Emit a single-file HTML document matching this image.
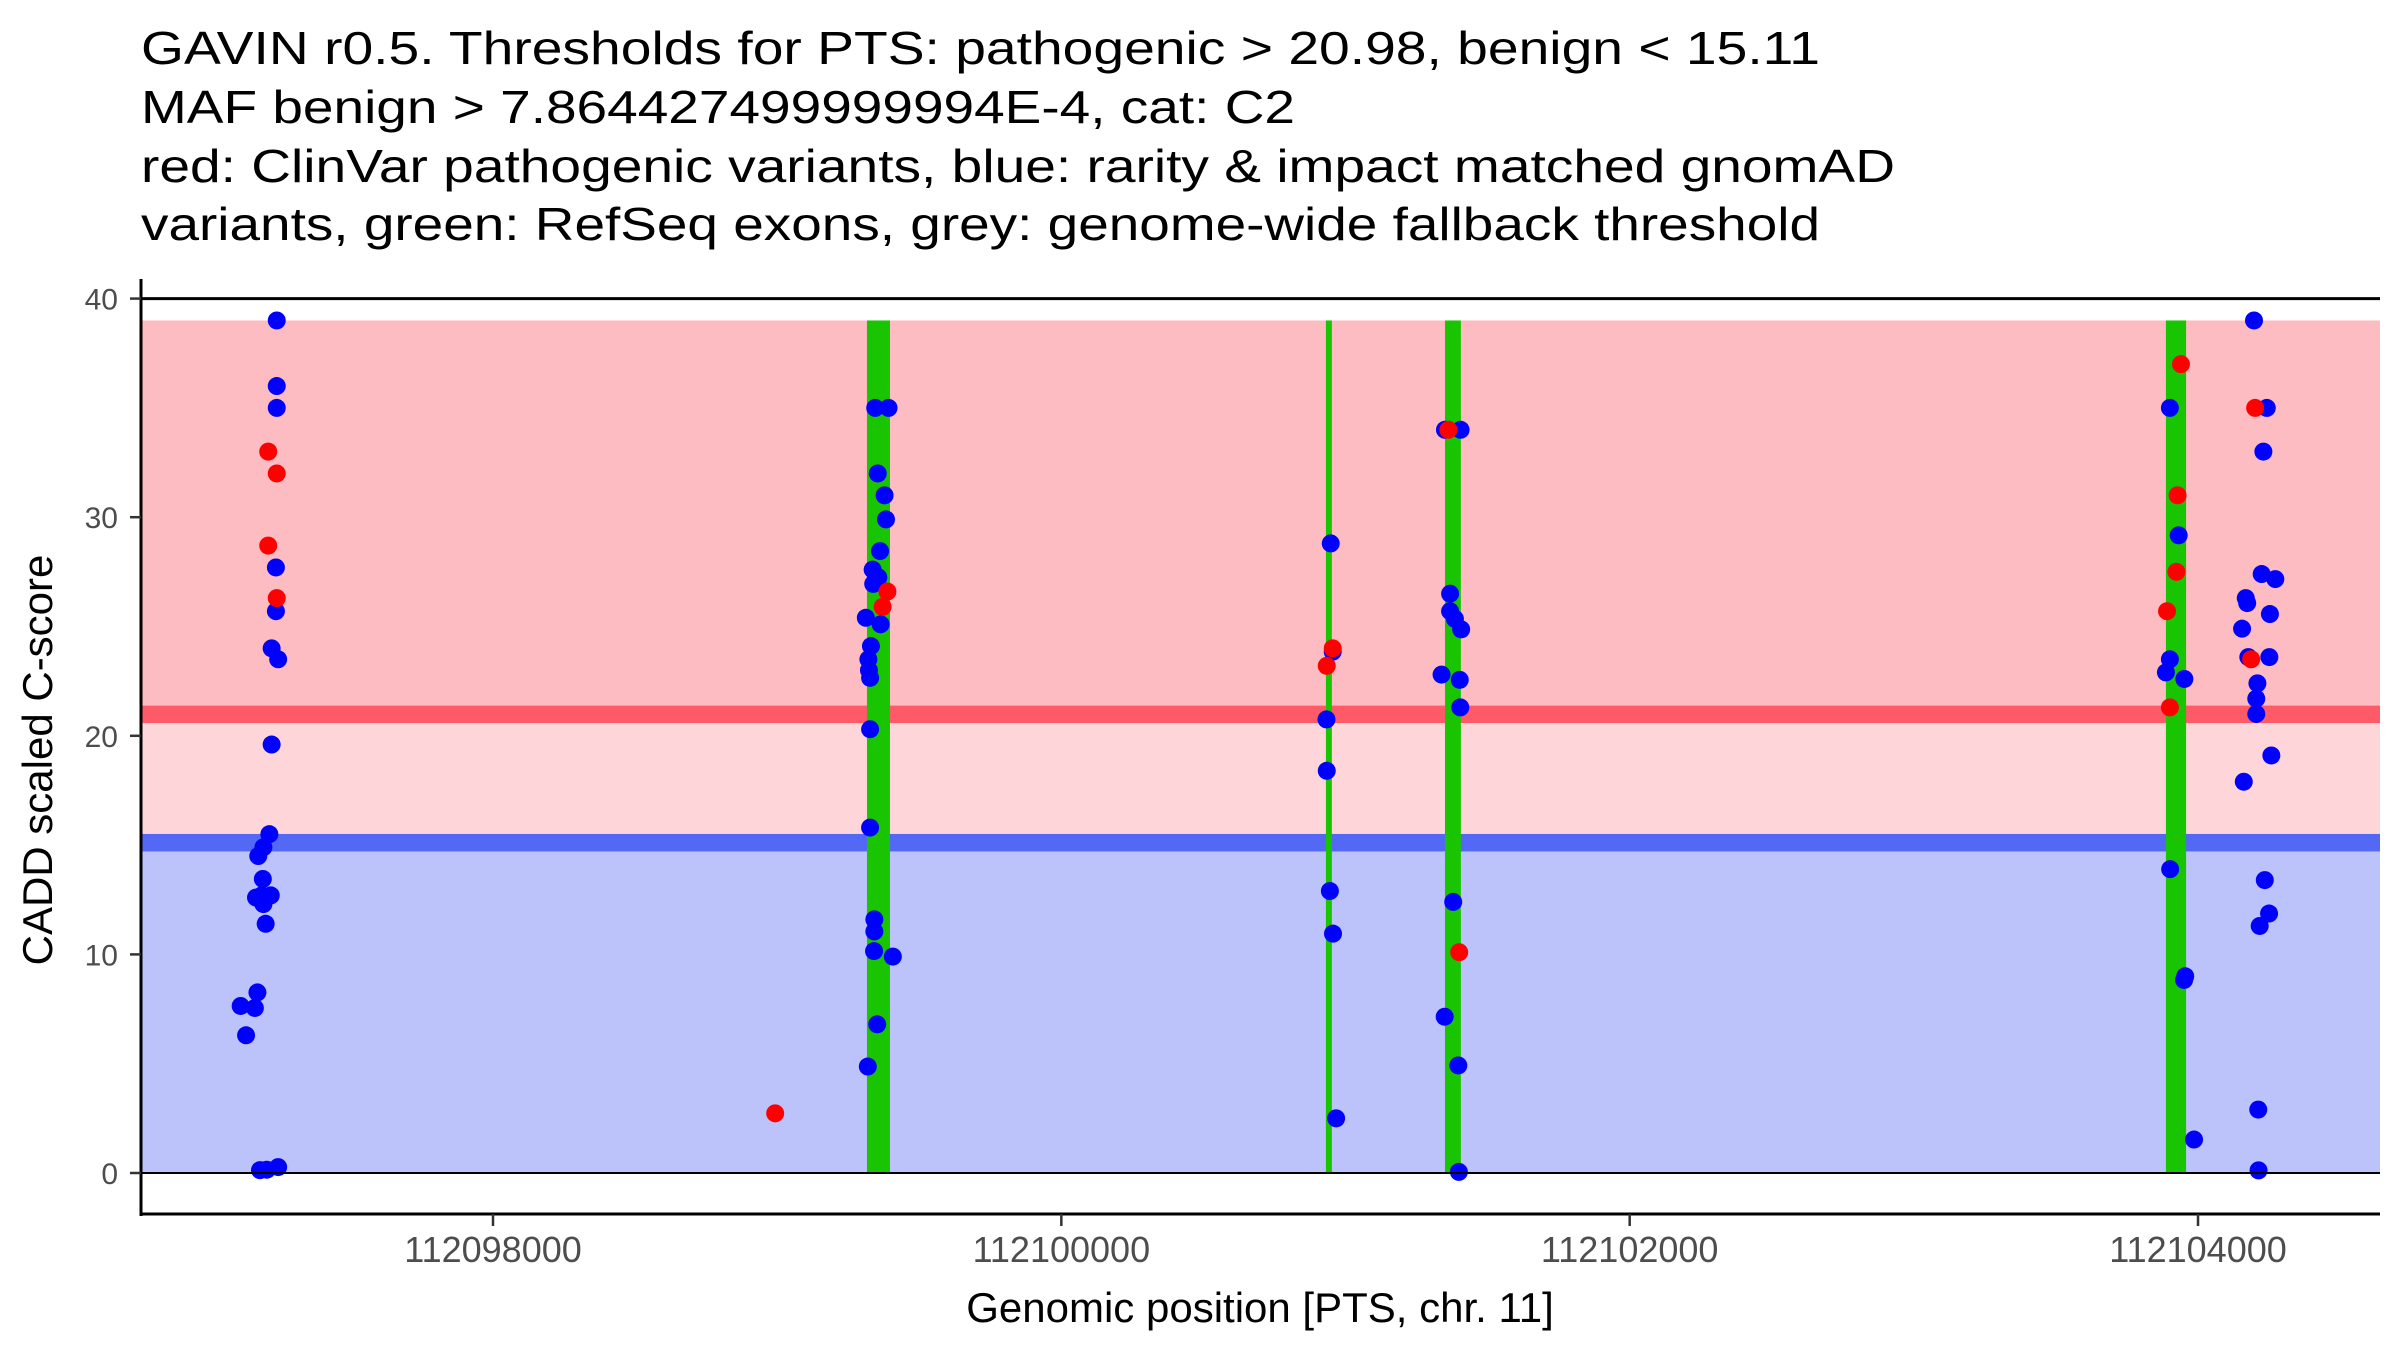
<!DOCTYPE html>
<html><head><meta charset="utf-8"><style>
html,body{margin:0;padding:0;background:#fff;}
svg{display:block;font-family:"Liberation Sans",Arial,sans-serif;}
</style></head><body>
<svg id="chart" width="2400" height="1350" viewBox="0 0 2400 1350" xmlns="http://www.w3.org/2000/svg">
<g font-size="46" fill="#000">
<text x="141" y="64" textLength="1679" lengthAdjust="spacingAndGlyphs">GAVIN r0.5. Thresholds for PTS: pathogenic &gt; 20.98, benign &lt; 15.11</text>
<text x="141" y="123" textLength="1154" lengthAdjust="spacingAndGlyphs">MAF benign &gt; 7.864427499999994E-4, cat: C2</text>
<text x="141" y="182" textLength="1754" lengthAdjust="spacingAndGlyphs">red: ClinVar pathogenic variants, blue: rarity &amp; impact matched gnomAD</text>
<text x="141" y="240" textLength="1679" lengthAdjust="spacingAndGlyphs">variants, green: RefSeq exons, grey: genome-wide fallback threshold</text>
</g>
<g id="bg"></g>
<g id="exons"></g>
<g id="pts"></g>
<g id="axes"></g>
<text x="1260" y="1322" font-size="42" text-anchor="middle" fill="#000">Genomic position [PTS, chr. 11]</text>
<text transform="translate(52,760) rotate(-90)" font-size="42" text-anchor="middle" fill="#000">CADD scaled C-score</text>
</svg>
<script>
const xTicks = [112098000, 112100000, 112102000, 112104000];
const xTickLabels = ["112098000", "112100000", "112102000", "112104000"];
const yTicks = [0, 10, 20, 30, 40];
const yTickLabels = ["0", "10", "20", "30", "40"];
const pathogenicThreshold = 20.98;
const benignThreshold = 15.11;
const regionTop = 39;
const exonStarts = [112099316, 112100931, 112101350, 112103887];
const exonEnds = [112099397, 112100952, 112101406, 112103958];
const redPos = [112097209,112097239,112097209,112097239,112098993,112099388,112099371,112100955,112100934,112101362,112101400,112103940,112103928,112103924,112103891,112103901,112104201,112104187];
const redVal = [33.0,32.0,28.7,26.3,2.73,26.6,25.9,24.0,23.2,34.0,10.1,37.0,31.0,27.5,25.7,21.3,35.0,23.5];
const bluePos = [112097239,112097239,112097239,112097236,112097236,112097221,112097244,112097221,112097213,112097192,112097174,112097190,112097186,112097218,112097166,112097192,112097200,112097171,112097112,112097162,112097131,112097180,112097204,112097244,
112099345,112099392,112099354,112099378,112099383,112099362,112099336,112099356,112099338,112099364,112099312,112099330,112099321,112099323,112099327,112099342,112099341,112099407,112099352,112099319,112099327,
112100948,112100955,112100933,112100934,112100945,112100956,112100967,
112101350,112101405,112101368,112101368,112101385,112101407,112101338,112101402,112101404,112101379,112101349,112101397,112101399,
112103901,112103932,112103901,112103887,112103952,112103902,112103955,112103951,112103986,
112104197,112104242,112104230,112104224,112104272,112104168,112104173,112104253,112104155,112104177,112104251,112104209,112104205,112104205,112104258,112104161,112104235,112104250,112104217,112104212,112104213];
const blueVal = [39.0,36.0,35.0,27.7,25.7,24.0,23.5,19.6,15.5,14.9,14.5,13.45,12.7,12.7,12.6,12.3,11.4,8.26,7.64,7.55,6.3,0.13,0.15,0.27,
35.0,35.0,32.0,31.0,29.9,28.45,27.6,27.25,26.95,25.1,25.4,24.1,23.5,23.0,22.65,11.05,10.15,9.9,6.8,4.87,20.3,
28.8,23.85,20.75,18.4,12.9,10.95,2.5,
34.0,34.0,26.5,25.7,25.35,24.87,22.8,22.56,21.3,12.4,7.15,4.92,0.05,
35.0,29.17,23.5,22.9,22.6,13.9,9.0,8.83,1.53,
39.0,35.0,33.0,27.4,27.17,26.3,26.07,25.57,24.9,23.6,23.6,22.4,21.7,21.0,19.1,17.9,13.4,11.87,11.3,2.9,0.12];
const blueExtraPos = [112099327];
const blueExtraVal = [15.8];
const blueExtraPos2 = [112099342];
const blueExtraVal2 = [11.6];

const NS = "http://www.w3.org/2000/svg";
const L = 141, R = 2380, Y0 = 1173, PXU = 21.86;
function xs(p){ return 493 + (p - 112098000) * 0.28417; }
function ys(v){ return Y0 - v * PXU; }
function mk(tag, attrs, parent){ const e = document.createElementNS(NS, tag); for (const k in attrs) e.setAttribute(k, attrs[k]); parent.appendChild(e); return e; }

const bg = document.getElementById('bg');
let r;
r = mk('rect', {x:L, y:ys(regionTop), width:R-L, height:ys(pathogenicThreshold)-ys(regionTop), fill:'#FDBCC1'}, bg);


r = mk('rect', {x:L, y:ys(pathogenicThreshold), width:R-L, height:ys(benignThreshold)-ys(pathogenicThreshold), fill:'#FED6DA'}, bg);


r = mk('rect', {x:L, y:ys(benignThreshold), width:R-L, height:ys(0)-ys(benignThreshold), fill:'#BCC2FA'}, bg);


r = mk('rect', {x:L, y:ys(pathogenicThreshold+0.4), width:R-L, height:0.8*PXU, fill:'#FE5A68'}, bg);


r = mk('rect', {x:L, y:ys(benignThreshold+0.4), width:R-L, height:0.8*PXU, fill:'#5369F5'}, bg);



const ex = document.getElementById('exons');
for (let i = 0; i < exonStarts.length; i++){
  const e = mk('rect', {x:xs(exonStarts[i]), y:ys(regionTop), width:Math.max(4, xs(exonEnds[i])-xs(exonStarts[i])), height:ys(0)-ys(regionTop), fill:'#19C500'}, ex);
  
  
}

const pts = document.getElementById('pts');
function drawPts(P, V, col){
  for (let i = 0; i < P.length; i++){
    const c = mk('circle', {cx:xs(P[i]), cy:ys(V[i]), r:9, fill:col}, pts);
    
    
  }
}
drawPts(bluePos, blueVal, '#0000FF');
drawPts(blueExtraPos, blueExtraVal, '#0000FF');
drawPts(blueExtraPos2, blueExtraVal2, '#0000FF');
drawPts(redPos, redVal, '#FF0000');

const ax = document.getElementById('axes');
let ln;
ln = mk('line', {x1:L, x2:R, y1:ys(0), y2:ys(0), stroke:'#000', 'stroke-width':2}, ax);


ln = mk('line', {x1:L, x2:R, y1:ys(40), y2:ys(40), stroke:'#000', 'stroke-width':3}, ax);


ln = mk('line', {x1:L, x2:L, y1:279, y2:1216, stroke:'#000', 'stroke-width':3}, ax);


ln = mk('line', {x1:L-1, x2:R, y1:1214, y2:1214, stroke:'#000', 'stroke-width':3}, ax);


for (let i = 0; i < yTicks.length; i++){
  const y = ys(yTicks[i]);
  const t = mk('line', {x1:L-11, x2:L, y1:y, y2:y, stroke:'#333', 'stroke-width':2.5}, ax);
  
  
  const tx = mk('text', {x:118, y:y+11, 'font-size':30, 'text-anchor':'end', fill:'#4D4D4D'}, ax);
  tx.textContent = yTickLabels[i];
  
  
}
for (let i = 0; i < xTicks.length; i++){
  const x = xs(xTicks[i]);
  const t = mk('line', {x1:x, x2:x, y1:1214, y2:1226, stroke:'#333', 'stroke-width':2.5}, ax);
  
  
  const tx = mk('text', {x:x, y:1262, 'font-size':36, 'text-anchor':'middle', fill:'#4D4D4D'}, ax);
  tx.textContent = xTickLabels[i];
  
  
}
</script>
</body></html>
